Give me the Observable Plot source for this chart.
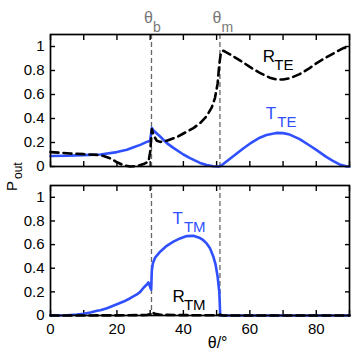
<!DOCTYPE html>
<html>
<head>
<meta charset="utf-8">
<script src="https://cdn.jsdelivr.net/npm/d3@7"></script>
<script src="https://cdn.jsdelivr.net/npm/@observablehq/plot@0.6"></script>
<style>
  html, body { margin: 0; padding: 0; background: white; }
  #wrap { position: relative; width: 354px; height: 353px; overflow: hidden; }
  #wrap svg { display: block; }
</style>
</head>
<body>
<div id="wrap"></div>
<script>
// ---------- data ----------
const thetaB = 30.4;
const thetaM = 51.0;

const tteTheta = [0, 5, 10, 15, 20, 23, 25, 27, 29, 30, 30.5, 31, 33, 35, 37, 40, 42, 45, 47, 49, 50.5, 51, 52, 55, 58, 60, 63, 65, 68, 70, 72, 75, 78, 80, 83, 85, 87, 89, 90];
const tteVal   = [0.087, 0.09, 0.095, 0.1, 0.12, 0.14, 0.16, 0.18, 0.205, 0.215, 0.32, 0.3, 0.25, 0.195, 0.155, 0.1, 0.07, 0.03, 0.012, 0.002, 0, 0.002, 0.02, 0.085, 0.15, 0.19, 0.24, 0.262, 0.28, 0.278, 0.266, 0.228, 0.175, 0.138, 0.08, 0.047, 0.017, 0.002, 0];

const rteTheta = [0, 3, 6, 10, 14, 16, 18, 20, 22, 24, 26, 28, 29.5, 30, 30.5, 31, 32, 33, 35, 38, 40, 43, 45, 47, 48.5, 49.5, 50.3, 50.8, 51.3, 52, 54, 57, 60, 63, 66, 68, 70, 72, 75, 78, 80, 83, 86, 88, 90];
const rteVal   = [0.12, 0.115, 0.108, 0.103, 0.097, 0.088, 0.068, 0.035, 0.01, 0.0, 0.003, 0.02, 0.04, 0.12, 0.31, 0.26, 0.215, 0.205, 0.215, 0.245, 0.275, 0.32, 0.36, 0.42, 0.49, 0.57, 0.69, 0.85, 0.95, 0.965, 0.935, 0.885, 0.83, 0.78, 0.74, 0.725, 0.725, 0.735, 0.77, 0.82, 0.86, 0.91, 0.955, 0.985, 1.0];

const ttmTheta = [0, 5, 8, 10, 12, 14, 15, 17, 20, 22, 24, 26, 27, 28, 29, 29.5, 30, 30.3, 30.5, 30.8, 31.5, 33, 35, 37, 39, 41, 43, 45, 46, 47, 48, 49, 49.7, 50.3, 50.8, 51.1, 52, 90];
const ttmVal   = [0, 0.002, 0.008, 0.015, 0.026, 0.04, 0.045, 0.062, 0.095, 0.118, 0.146, 0.178, 0.2, 0.235, 0.262, 0.28, 0.24, 0.22, 0.38, 0.44, 0.49, 0.54, 0.59, 0.625, 0.652, 0.672, 0.674, 0.655, 0.637, 0.61, 0.57, 0.5, 0.43, 0.33, 0.2, 0.0, 0, 0];

const rtmTheta = [0, 20, 29, 30, 30.5, 31.5, 33, 40, 50, 51, 52, 90];
const rtmVal   = [0, 0.001, 0.004, 0.012, 0.025, 0.015, 0.006, 0.003, 0.002, 0.006, 0, 0];

const xTicks = [0, 10, 20, 30, 40, 50, 60, 70, 80, 90];
const xTickLabels = ["0", "", "20", "", "40", "", "60", "", "80", ""];
const yTicks = [0, 0.2, 0.4, 0.6, 0.8, 1];
const yTickLabels = ["0", "0.2", "0.4", "0.6", "0.8", "1"];

const angleLines = [thetaB, thetaM];
const angleLabels = [{x: thetaB, main: "θ", sub: "b"}, {x: thetaM, main: "θ", sub: "m"}];

const topCurveLabels = [
  {x: 63.9, y: 0.87, main: "R", sub: "TE", color: "black"},
  {x: 64.8, y: 0.40, main: "T", sub: "TE", color: "#3050ff"}
];
const bottomCurveLabels = [
  {x: 36.7, y: 0.776, main: "T", sub: "TM", color: "#3050ff"},
  {x: 36.7, y: 0.118, main: "R", sub: "TM", color: "black"}
];
const xLabel = [{x: 50.3, text: "θ/°"}];

// ---------- helpers ----------
const BLUE = "#3050ff";
const X_DOMAIN = [0, 90], Y_DOMAIN = [0, 1.1];
const zipXY = (xs, ys) => xs.map((x, i) => ({x, y: ys[i]}));
const tte = zipXY(tteTheta, tteVal);
const rte = zipXY(rteTheta, rteVal);
const ttm = zipXY(ttmTheta, ttmVal);
const rtm = zipXY(rtmTheta, rtmVal);

const W = 354, ML = 50, MR = 5;
const TL = 5; // tick length in px
const font = "'Liberation Sans', Arial, Helvetica, sans-serif";

// inward ticks on all four sides of the frame, drawn by Plot's own axis marks
function frameMarks(showXLabels) {
  const tick = {tickSize: -TL, strokeWidth: 1.4, stroke: "black", text: null, label: null};
  const m = [
    Plot.ruleX(angleLines, {x: d => d, stroke: "#666", strokeWidth: 1.3, strokeDasharray: "5,3"}),
    Plot.axisX(xTicks, {anchor: "bottom", ...tick}),
    Plot.axisX(xTicks, {anchor: "top", ...tick}),
    Plot.axisY(yTicks, {anchor: "left", ...tick}),
    Plot.axisY(yTicks, {anchor: "right", ...tick}),
    Plot.axisY(yTicks, {anchor: "left", tickSize: 0, tickPadding: 6, fontSize: 15,
      tickFormat: d => yTickLabels[yTicks.indexOf(d)], label: null})
  ];
  if (showXLabels) {
    m.push(Plot.axisX(xTicks, {anchor: "bottom", tickSize: 0, tickPadding: 8, fontSize: 15,
      tickFormat: d => xTickLabels[xTicks.indexOf(d)], label: null}));
  }
  return m;
}

function labelMarks(labels) {
  return [
    Plot.text(labels, {x: "x", y: "y", text: "main", fill: "color", textAnchor: "start",
      lineAnchor: "bottom", fontSize: 17}),
    Plot.text(labels, {x: "x", y: "y", text: "sub", fill: "color", textAnchor: "start",
      lineAnchor: "bottom", fontSize: 15, dx: 11.5, dy: 8})
  ];
}

// ---------- top panel ----------
const topH = 175, topMT = 34, topMB = 9;
const topPlot = Plot.plot({
  width: W, height: topH, marginLeft: ML, marginRight: MR, marginTop: topMT, marginBottom: topMB,
  style: {fontFamily: font, fontSize: "15px", color: "black", background: "white", overflow: "visible"},
  x: {domain: X_DOMAIN},
  y: {domain: Y_DOMAIN},
  marks: [
    ...frameMarks(false),
    Plot.line(tte, {x: "x", y: "y", stroke: BLUE, strokeWidth: 2.6}),
    Plot.line(rte, {x: "x", y: "y", stroke: "black", strokeWidth: 2.6, strokeDasharray: "8,5"}),
    ...labelMarks(topCurveLabels),
    Plot.text(angleLabels, {x: "x", text: "main", frameAnchor: "top", lineAnchor: "bottom",
      textAnchor: "end", dx: 1.5, dy: -12, fill: "#777", fontSize: 16}),
    Plot.text(angleLabels, {x: "x", text: "sub", frameAnchor: "top", lineAnchor: "bottom",
      textAnchor: "start", dx: 1.5, dy: -3, fill: "#777", fontSize: 14}),
    Plot.frame({stroke: "black", strokeWidth: 1.7})
  ]
});

// ---------- bottom panel ----------
const botH = 178, botMT = 10, botMB = 38;
const botPlot = Plot.plot({
  width: W, height: botH, marginLeft: ML, marginRight: MR, marginTop: botMT, marginBottom: botMB,
  style: {fontFamily: font, fontSize: "15px", color: "black", background: "white", overflow: "visible"},
  x: {domain: X_DOMAIN},
  y: {domain: Y_DOMAIN},
  marks: [
    ...frameMarks(true),
    Plot.line(ttm, {x: "x", y: "y", stroke: BLUE, strokeWidth: 2.6}),
    Plot.line(rtm, {x: "x", y: "y", stroke: "black", strokeWidth: 2.6, strokeDasharray: "8,5"}),
    ...labelMarks(bottomCurveLabels),
    Plot.text(xLabel, {x: "x", text: "text", frameAnchor: "bottom", lineAnchor: "bottom",
      dy: 32, fontSize: 16}),
    Plot.frame({stroke: "black", strokeWidth: 1.7})
  ]
});

const wrap = document.getElementById("wrap");
wrap.appendChild(topPlot);
wrap.appendChild(botPlot);

// y-axis label P_out spanning both panels
const NS = "http://www.w3.org/2000/svg";
const ys = document.createElementNS(NS, "svg");
ys.setAttribute("width", 30);
ys.setAttribute("height", 353);
ys.style.position = "absolute";
ys.style.left = "0px";
ys.style.top = "0px";
const t = document.createElementNS(NS, "text");
t.setAttribute("transform", "translate(17,191) rotate(-90)");
t.setAttribute("font-family", font);
t.setAttribute("font-size", 15);
t.setAttribute("fill", "black");
const t1 = document.createElementNS(NS, "tspan");
t1.textContent = "P";
const t2 = document.createElementNS(NS, "tspan");
t2.textContent = "out";
t2.setAttribute("font-size", 12);
t2.setAttribute("dx", 2);
t2.setAttribute("dy", 5);
t.appendChild(t1); t.appendChild(t2);
ys.appendChild(t);
wrap.appendChild(ys);
</script>
</body>
</html>
